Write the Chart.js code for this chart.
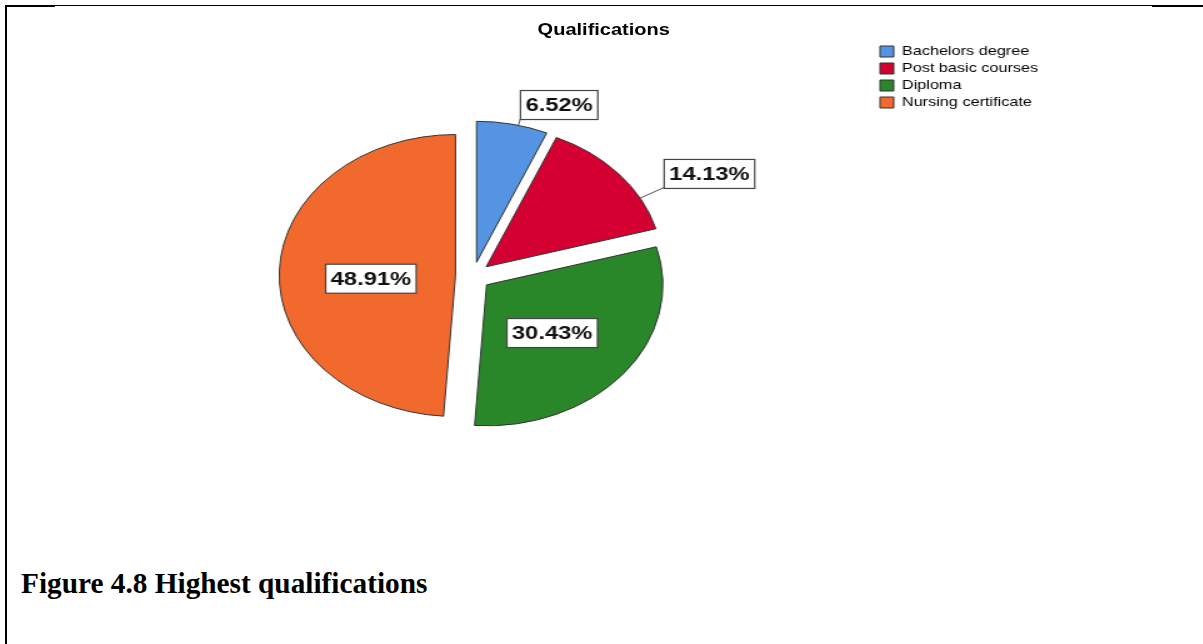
<!DOCTYPE html>
<html>
<head>
<meta charset="utf-8">
<script src="https://cdn.jsdelivr.net/npm/chart.js@4/dist/chart.umd.min.js"></script>
<style>
html,body{margin:0;padding:0;background:#fff;width:1203px;height:644px;overflow:hidden;position:relative;font-family:"Liberation Sans",Arial,sans-serif;}
#wrap{position:absolute;left:5px;top:6px;width:958px;height:560px;transform:scaleX(1.25);transform-origin:0 0;}
#c{display:block;position:absolute;left:0;top:0;}
#ttl{position:absolute;left:0;top:14px;width:958px;text-align:center;font:bold 16px "Liberation Sans",Arial,sans-serif;line-height:19px;color:#000;}
.ln{position:absolute;background:#000;}
#cap{position:absolute;left:21px;top:569px;font:bold 29.3px "Liberation Serif","Times New Roman",serif;line-height:29px;color:#000;white-space:nowrap;}
</style>
</head>
<body>
<div class="ln" style="left:5px;top:5px;width:2px;height:639px"></div>
<div class="ln" style="left:5px;top:5px;width:50px;height:2px"></div>
<div class="ln" style="left:55px;top:5px;width:1097px;height:1px"></div>
<div class="ln" style="left:1152px;top:5px;width:51px;height:2px"></div>
<div id="wrap">
  <canvas id="c" width="958" height="560" style="width:958px;height:560px"></canvas>
  <div id="ttl"></div>
</div>
<div id="cap"></div>
<script>
// ---- data ----
const chartTitle = 'Qualifications';
const captionText = 'Figure 4.8 Highest qualifications';
const categories = ['Bachelors degree', 'Post basic courses', 'Diploma', 'Nursing certificate'];
const percentages = [6.52, 14.13, 30.43, 48.91];
// ---- styles ----
const sliceColors = ['#5594E3', '#D50032', '#298729', '#F2692D'];

document.getElementById('ttl').textContent = chartTitle;
document.getElementById('cap').textContent = captionText;

const explodePlugin = {
  id: 'explode',
  beforeDatasetDraw(chart, args, opts) {
    const ctx = chart.ctx;
    const d = opts.distance || 0;
    args.meta.data.forEach(arc => {
      const p = arc.getProps(['startAngle', 'endAngle']);
      const mid = (p.startAngle + p.endAngle) / 2;
      ctx.save();
      ctx.translate(Math.cos(mid) * d, Math.sin(mid) * d);
      arc.draw(ctx, chart.chartArea);
      ctx.restore();
    });
    return false;
  }
};

const pctLabelPlugin = {
  id: 'pctLabels',
  afterDatasetsDraw(chart, args, opts) {
    const ctx = chart.ctx;
    const meta = chart.getDatasetMeta(0);
    const vals = chart.data.datasets[0].data;
    const total = vals.reduce((a, b) => a + b, 0);
    const d = chart.options.plugins.explode.distance || 0;
    ctx.save();
    ctx.font = 'bold 19px "Liberation Sans", Arial, sans-serif';
    meta.data.forEach((arc, i) => {
      const p = arc.getProps(['x', 'y', 'startAngle', 'endAngle', 'outerRadius']);
      const mid = (p.startAngle + p.endAngle) / 2;
      const cx = p.x + Math.cos(mid) * d;
      const cy = p.y + Math.sin(mid) * d;
      const text = vals[i].toFixed(2) + '%';
      const tw = ctx.measureText(text).width;
      const bw = tw + 8, bh = 29;
      let bx, by;
      if (vals[i] / total < 0.2) {
        const a = mid + (p.endAngle - p.startAngle) * (opts.leaderShift[i] || 0);
        const L = opts.leaderLength[i] || 10;
        const sx = cx + Math.cos(a) * p.outerRadius;
        const sy = cy + Math.sin(a) * p.outerRadius;
        const ex = sx + Math.cos(a) * L;
        const ey = sy + Math.sin(a) * L;
        ctx.strokeStyle = '#505050';
        ctx.lineWidth = 1;
        ctx.beginPath(); ctx.moveTo(sx, sy); ctx.lineTo(ex, ey); ctx.stroke();
        bx = ex; by = ey + 1 - bh;
      } else {
        const lx = cx + Math.cos(mid) * p.outerRadius * opts.insideRatio;
        const ly = cy + Math.sin(mid) * p.outerRadius * opts.insideRatio + opts.insideDy;
        bx = lx - bw / 2; by = ly - bh / 2;
      }
      ctx.fillStyle = '#fff';
      ctx.fillRect(bx, by, bw, bh);
      ctx.strokeStyle = '#444';
      ctx.lineWidth = 1.2;
      ctx.strokeRect(bx, by, bw, bh);
      ctx.fillStyle = '#111';
      ctx.textAlign = 'center';
      ctx.textBaseline = 'middle';
      ctx.fillText(text, bx + bw / 2, by + bh / 2 + 1);
    });
    ctx.restore();
  }
};

new Chart(document.getElementById('c'), {
  type: 'pie',
  data: {
    labels: categories,
    datasets: [{
      data: percentages,
      backgroundColor: sliceColors,
      borderColor: '#333',
      borderWidth: 1,
      radius: 141
    }]
  },
  options: {
    responsive: false,
    animation: false,
    devicePixelRatio: 1,
    layout: { padding: { left: 52.8, right: 121.4, top: 35, bottom: 55 } },
    plugins: {
      title: { display: false },
      tooltip: { enabled: false },
      explode: { distance: 14 },
      pctLabels: {
        leaderShift: [0.085, 0.235, 0, 0],
        leaderLength: [7, 22, 0, 0],
        insideRatio: 0.48,
        insideDy: 5.5
      },
      legend: {
        display: true,
        position: 'right',
        align: 'start',
        labels: {
          boxWidth: 11,
          boxHeight: 11,
          padding: 4,
          color: '#000',
          font: { size: 13, family: '"Liberation Sans", Arial, sans-serif' }
        }
      }
    }
  },
  plugins: [explodePlugin, pctLabelPlugin]
});
</script>
</body>
</html>
